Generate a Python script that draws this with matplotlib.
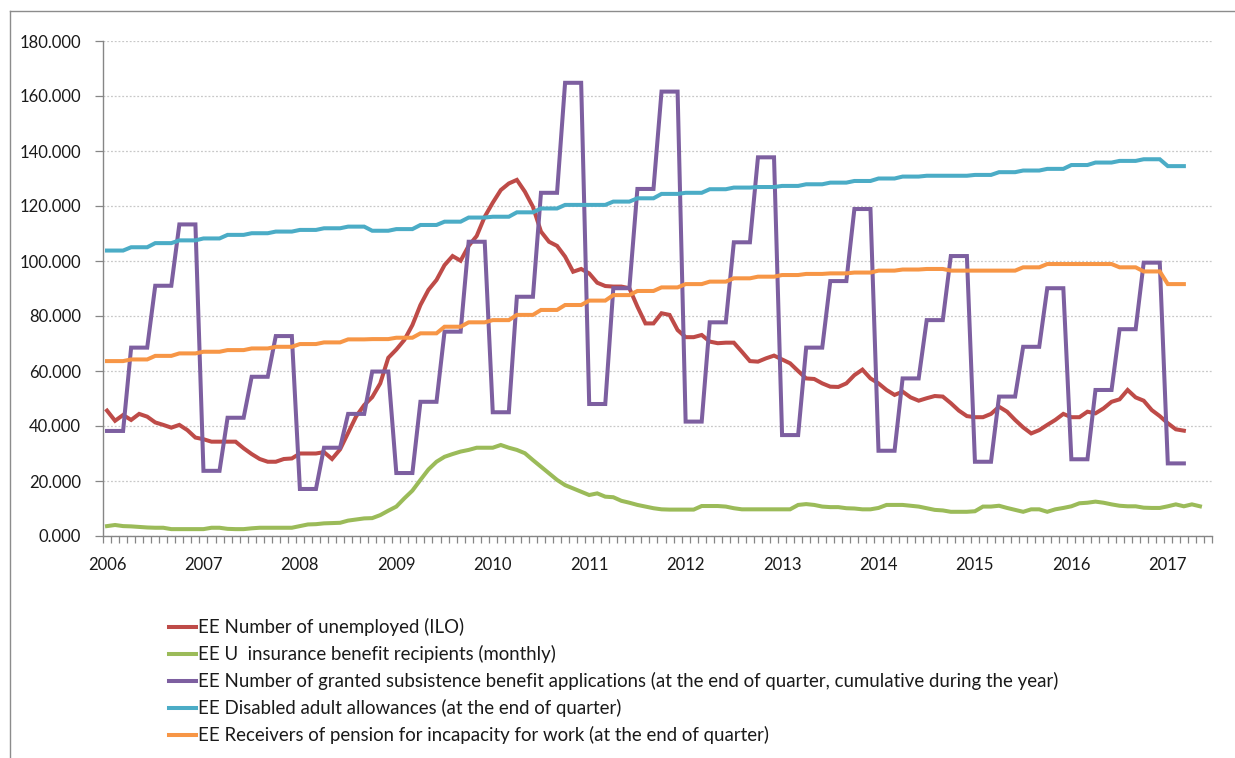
import numpy as np
import matplotlib
matplotlib.use("Agg")
import matplotlib.pyplot as plt
from matplotlib.lines import Line2D
from matplotlib.ticker import FixedLocator, FuncFormatter

plt.rcParams['font.family'] = ['Lato', 'DejaVu Sans']

# ---------------- data (thousands) ----------------
years = ['2006', '2007', '2008', '2009', '2010', '2011', '2012',
         '2013', '2014', '2015', '2016', '2017']

unemployed = [45.6, 41.9, 44.0, 42.2, 44.4, 43.4, 41.3, 40.4, 39.4, 40.4, 38.5, 35.8,
              35.2, 34.3, 34.3, 34.3, 34.3, 31.9, 29.8, 28.0, 27.0, 27.0, 28.0, 28.2,
              30.0, 30.0, 30.0, 30.5, 28.0, 31.5, 37.5, 43.5, 47.6, 50.5, 55.5, 64.8,
              67.8, 71.3, 76.7, 84.0, 89.5, 93.1, 98.5, 101.8, 100.1, 105.5, 109.1, 116.1,
              121.2, 125.8, 128.2, 129.5, 125.2, 119.7, 110.7, 107.0, 105.5, 101.6, 96.1, 97.1,
              95.5, 92.1, 90.9, 90.7, 90.7, 90.1, 83.4, 77.3, 77.3, 81.0, 80.4, 74.9,
              72.3, 72.3, 73.1, 70.7, 70.1, 70.3, 70.3, 67.0, 63.6, 63.4, 64.6, 65.6,
              64.2, 62.8, 60.0, 57.3, 57.1, 55.5, 54.3, 54.2, 55.5, 58.5, 60.5, 57.3,
              55.5, 53.1, 51.3, 52.5, 50.4, 49.2, 50.1, 50.9, 50.7, 48.3, 45.6, 43.6,
              43.2, 43.2, 44.4, 47.0, 45.2, 42.2, 39.5, 37.3, 38.5, 40.4, 42.2, 44.4,
              43.2, 43.2, 45.2, 44.6, 46.4, 48.8, 49.7, 53.1, 50.4, 49.2, 45.8, 43.6,
              41.0, 38.8, 38.3]

ui_recipients = [3.6, 4.0, 3.6, 3.5, 3.3, 3.1, 3.0, 3.0, 2.5, 2.5, 2.5, 2.5,
                 2.5, 3.0, 3.0, 2.6, 2.5, 2.5, 2.8, 3.0, 3.0, 3.0, 3.0, 3.0,
                 3.6, 4.2, 4.3, 4.6, 4.7, 4.8, 5.6, 6.0, 6.4, 6.5, 7.6, 9.2,
                 10.7, 13.7, 16.5, 20.4, 24.2, 27.0, 28.8, 29.8, 30.7, 31.3, 32.1, 32.1,
                 32.1, 33.1, 32.1, 31.3, 30.1, 27.6, 25.2, 22.8, 20.4, 18.5, 17.3, 16.1,
                 14.9, 15.5, 14.3, 14.1, 12.8, 12.1, 11.3, 10.7, 10.1, 9.7, 9.6, 9.6,
                 9.6, 9.6, 10.9, 10.9, 10.9, 10.7, 10.1, 9.7, 9.7, 9.7, 9.7, 9.7,
                 9.7, 9.7, 11.3, 11.6, 11.3, 10.7, 10.5, 10.5, 10.1, 10.0, 9.7, 9.7,
                 10.2, 11.3, 11.3, 11.3, 11.0, 10.7, 10.1, 9.5, 9.3, 8.8, 8.8, 8.8,
                 9.0, 10.7, 10.7, 11.0, 10.2, 9.5, 8.8, 9.7, 9.7, 8.8, 9.7, 10.2,
                 10.8, 11.9, 12.1, 12.5, 12.1, 11.5, 11.0, 10.8, 10.8, 10.3, 10.2, 10.2,
                 10.8, 11.5, 10.8, 11.5, 10.8]

# quarterly values (each quarter shown over its three months)
subsistence_q = [38.2, 68.5, 91.0, 113.3,
                 23.7, 43.0, 57.9, 72.7,
                 17.1, 32.1, 44.4, 59.8,
                 22.9, 48.8, 74.3, 107.0,
                 45.0, 87.0, 124.8, 164.8,
                 48.0, 90.1, 126.2, 161.6,
                 41.6, 77.7, 106.8, 137.7,
                 36.7, 68.5, 92.7, 118.9,
                 31.0, 57.3, 78.5, 101.8,
                 27.0, 50.7, 68.8, 90.1,
                 27.9, 53.1, 75.2, 99.4,
                 26.4]

disabled_q = [103.8, 105.0, 106.5, 107.5,
              108.2, 109.5, 110.1, 110.7,
              111.3, 111.9, 112.5, 111.0,
              111.6, 113.1, 114.3, 115.8,
              116.1, 117.7, 119.1, 120.4,
              120.4, 121.6, 122.8, 124.4,
              124.8, 126.1, 126.7, 126.9,
              127.3, 127.9, 128.5, 129.1,
              130.0, 130.7, 131.0, 131.0,
              131.3, 132.3, 132.9, 133.5,
              134.9, 135.8, 136.4, 137.0,
              134.5]

pension_q = [63.6, 64.2, 65.5, 66.4,
             67.0, 67.6, 68.2, 68.8,
             69.8, 70.4, 71.5, 71.6,
             72.1, 73.7, 76.1, 77.7,
             78.5, 80.4, 82.2, 84.0,
             85.6, 87.6, 89.1, 90.4,
             91.6, 92.5, 93.7, 94.3,
             94.9, 95.3, 95.5, 95.8,
             96.5, 96.9, 97.1, 96.5,
             96.5, 96.5, 97.7, 98.9,
             98.9, 98.9, 97.7, 96.2,
             91.6]

labels = ['EE Number of unemployed (ILO)',
          'EE U  insurance benefit recipients (monthly)',
          'EE Number of granted subsistence benefit applications (at the end of quarter, cumulative during the year)',
          'EE Disabled adult allowances (at the end of quarter)',
          'EE Receivers of pension for incapacity for work (at the end of quarter)']
colors = ['#BE4B48', '#9BBB59', '#7D5FA0', '#4BACC6', '#F79646']

series = [np.array(unemployed), np.array(ui_recipients),
          np.repeat(subsistence_q, 3), np.repeat(disabled_q, 3), np.repeat(pension_q, 3)]

# ---------------- figure ----------------
W, H = 1235, 758
fig = plt.figure(figsize=(W / 100, H / 100), dpi=100)
ax = fig.add_axes([103 / W, 1 - 536 / H, (1212 - 103) / W, (536 - 41) / H])

for s, lab, c in zip(series, labels, colors):
    ax.plot(np.arange(len(s)), s, color=c, lw=2.9, label=lab,
            solid_joinstyle='miter', zorder=3)

n_months = 138
ax.set_xlim(-0.5, n_months - 0.5)
ax.set_ylim(0, 180)
ax.set_yticks(np.arange(0, 181, 20))
ax.yaxis.set_major_formatter(FuncFormatter(lambda v, p: f"{v:.3f}"))
ax.grid(axis='y', color='#C8C8C8', linestyle=(0, (1.5, 1.5)), lw=0.9, zorder=0)

ax.set_xticks(np.arange(0, 12 * len(years), 12))
ax.set_xticklabels(years)
ax.xaxis.set_minor_locator(FixedLocator(np.arange(-0.5, n_months, 1)))
ax.tick_params(axis='x', which='major', length=0, pad=15, labelsize=12, labelcolor='#1a1a1a')
ax.tick_params(axis='x', which='minor', length=5, width=0.9, color='#868686', direction='out')
ax.tick_params(axis='y', which='major', length=6, width=0.9, color='#868686', pad=10,
               labelsize=12, labelcolor='#1a1a1a')

for side in ['top', 'right']:
    ax.spines[side].set_visible(False)
for side in ['left', 'bottom']:
    ax.spines[side].set_color('#868686')
    ax.spines[side].set_linewidth(1.0)

leg = ax.legend(loc='upper left', bbox_to_anchor=(169 / W, 1 - 618 / H),
                bbox_transform=fig.transFigure, frameon=False, fontsize=13.4,
                handlelength=1.45, handletextpad=0.1, labelspacing=0.48,
                borderpad=0, borderaxespad=0)
for t in leg.get_texts():
    t.set_color('#1a1a1a')

# chart frame (left and top edges visible)
fig.add_artist(Line2D([10 / W, 10 / W], [0, 1 - 11 / H], transform=fig.transFigure,
                      color='#8c8c8c', lw=1.0))
fig.add_artist(Line2D([10 / W, 1], [1 - 11 / H, 1 - 11 / H], transform=fig.transFigure,
                      color='#8c8c8c', lw=1.0))

fig.savefig('out.png', dpi=100)
